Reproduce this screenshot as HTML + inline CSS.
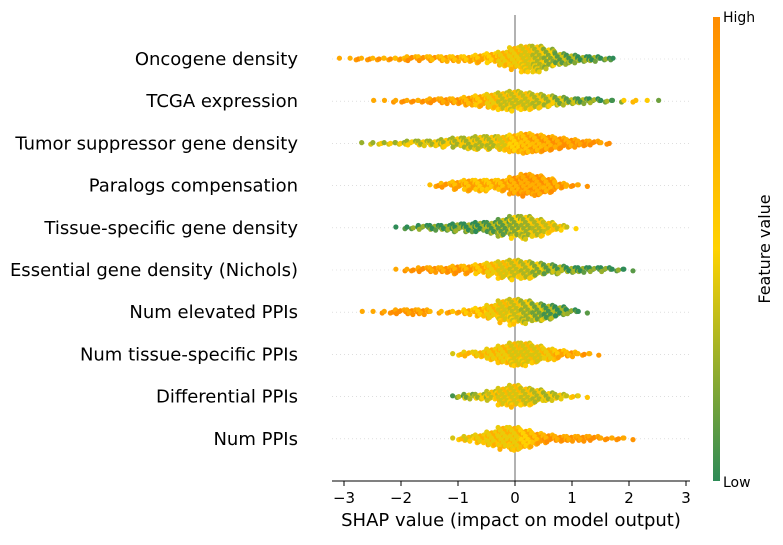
<!DOCTYPE html>
<html><head><meta charset="utf-8"><style>
body{margin:0;background:#fff;}
svg{font-family:"DejaVu Sans","Liberation Sans",sans-serif;}
</style></head><body>
<svg id="chart" width="783" height="540">
<defs><linearGradient id="cb" x1="0" y1="1" x2="0" y2="0">
<stop offset="0" stop-color="#2e8b57"/><stop offset="0.5" stop-color="#ffd200"/><stop offset="1" stop-color="#ff8c00"/>
</linearGradient></defs>
<g id="grid"></g>
<line x1="515" y1="15" x2="515" y2="481" stroke="#999" stroke-width="1.5"/>
<g id="dots"></g>
<g id="axes"></g>
<rect x="713" y="17" width="7" height="464" fill="url(#cb)"/>
<text x="723" y="22" font-size="14">High</text>
<text x="723" y="487" font-size="14">Low</text>
<text transform="translate(770,249) rotate(-90)" text-anchor="middle" font-size="16">Feature value</text>
<text x="511" y="526" text-anchor="middle" font-size="18">SHAP value (impact on model output)</text>
</svg>
<script>
const features=["Oncogene density","TCGA expression","Tumor suppressor gene density","Paralogs compensation","Tissue-specific gene density","Essential gene density (Nichols)","Num elevated PPIs","Num tissue-specific PPIs","Differential PPIs","Num PPIs"];
const binStart=-3.1, binWidth=0.2;
const countsOnco=[1,3,3,4,4,5,6,6,7,8,8,10,12,16,24,36,44,44,32,20,14,10,8,5,1,0,0,0,0,0];
const colorOnco=[.95,.9,.9,.85,.85,.8,.85,.8,.8,.75,.75,.7,.7,.65,.6,.6,.55,.45,.35,.25,.2,.15,.15,.1,.1,0,0,0,0,0];
const countsTcga=[0,0,0,1,2,3,4,5,6,8,10,14,18,24,30,32,30,24,18,14,10,8,6,4,2,2,1,1,1,0];
const colorTcga=[0,0,0,.95,.95,.95,.95,.9,.9,.9,.85,.8,.7,.6,.5,.5,.5,.45,.4,.3,.25,.2,.15,.15,.2,.7,.8,.7,.3,0];
const countsTsg=[0,0,2,3,4,5,6,8,10,12,16,20,22,22,24,30,34,30,24,18,14,10,6,3,0,0,0,0,0,0];
const colorTsg=[0,0,.4,.4,.4,.4,.4,.42,.42,.42,.42,.42,.45,.45,.55,.65,.75,.8,.85,.9,.9,.95,.95,.95,0,0,0,0,0,0];
const countsPara=[0,0,0,0,0,0,0,0,3,6,12,18,20,16,18,30,36,34,24,10,4,2,0,0,0,0,0,0,0,0];
const colorPara=[0,0,0,0,0,0,0,0,.8,.8,.75,.75,.7,.7,.75,.85,.9,.9,.85,.85,.9,.95,0,0,0,0,0,0,0,0];
const countsTissue=[0,0,0,0,0,2,4,6,8,10,12,14,16,20,28,36,38,30,18,8,2,0,0,0,0,0,0,0,0,0];
const colorTissue=[0,0,0,0,0,.1,.1,.1,.1,.12,.12,.15,.15,.2,.25,.35,.4,.45,.5,.5,.5,0,0,0,0,0,0,0,0,0];
const countsEss=[0,0,0,0,0,2,4,6,8,10,12,12,16,22,28,32,30,22,16,12,10,8,6,6,4,2,0,0,0,0];
const colorEss=[0,0,0,0,0,.95,.95,.95,.9,.9,.85,.8,.7,.6,.55,.5,.45,.35,.25,.2,.15,.12,.1,.1,.1,.1,0,0,0,0];
const countsElev=[0,0,1,2,3,6,8,8,2,3,4,8,14,22,36,42,38,30,24,16,6,2,0,0,0,0,0,0,0,0];
const colorElev=[0,0,.95,.95,.95,.95,.95,.9,.85,.8,.75,.7,.65,.6,.55,.5,.4,.3,.2,.15,.1,.1,0,0,0,0,0,0,0,0];
const countsTsPpi=[0,0,0,0,0,0,0,0,0,0,3,6,10,20,30,40,38,28,20,12,8,4,2,0,0,0,0,0,0,0];
const colorTsPpi=[0,0,0,0,0,0,0,0,0,0,.55,.6,.6,.6,.6,.55,.55,.55,.6,.7,.8,.85,.9,0,0,0,0,0,0,0];
const countsDiff=[0,0,0,0,0,0,0,0,0,0,4,8,10,16,30,36,30,22,14,8,4,2,0,0,0,0,0,0,0,0];
const colorDiff=[0,0,0,0,0,0,0,0,0,0,.2,.3,.4,.5,.55,.55,.5,.45,.4,.45,.5,.6,0,0,0,0,0,0,0,0];
const countsPpi=[0,0,0,0,0,0,0,0,0,0,3,8,14,24,36,40,30,18,12,10,8,8,6,4,4,2,0,0,0,0];
const colorPpi=[0,0,0,0,0,0,0,0,0,0,.55,.55,.6,.6,.6,.6,.65,.75,.85,.9,.9,.95,.95,.95,.95,.95,0,0,0,0];
const allCounts=[countsOnco,countsTcga,countsTsg,countsPara,countsTissue,countsEss,countsElev,countsTsPpi,countsDiff,countsPpi];
const allColors=[colorOnco,colorTcga,colorTsg,colorPara,colorTissue,colorEss,colorElev,colorTsPpi,colorDiff,colorPpi];
const xTicks=[-3,-2,-1,0,1,2,3];

const NS="http://www.w3.org/2000/svg";
const xScale=v=>515+v*57;
const yScale=i=>59+i*42.2;
function cmap(t){t=Math.max(0,Math.min(1,t));
 const a=[46,139,87],b=[255,210,0],c=[255,140,0];let p,q,u;
 if(t<.5){p=a;q=b;u=t/.5}else{p=b;q=c;u=(t-.5)/.5}
 return `rgb(${p.map((v,k)=>Math.round(v+(q[k]-v)*u)).join(',')})`;}
function mk(tag,attrs,parent){const e=document.createElementNS(NS,tag);for(const k in attrs)e.setAttribute(k,attrs[k]);parent.appendChild(e);return e;}
const grid=document.getElementById('grid'),dots=document.getElementById('dots'),axes=document.getElementById('axes');
features.forEach((f,i)=>{
 const y=yScale(i);
 const gl=mk('line',{x1:332,x2:690,y1:y,y2:y,stroke:'#ccc','stroke-dasharray':'1,3','stroke-width':0.6},grid);
 
 
 const t=mk('text',{x:298,y:y+6,'text-anchor':'end','font-size':18},axes);
 t.textContent=f;
 
 
 const cnt=allCounts[i],col=allColors[i];
 cnt.forEach((n,b)=>{
  if(!n)return;
  const x0=xScale(binStart+b*binWidth);
  const cols=Math.min(5,n),rows=Math.ceil(n/cols);
  for(let k=0;k<n;k++){
   const c=k%cols,r=Math.floor(k/cols);
   const cx=x0+(c+0.5+((r*7+c*3)%5)/5-0.4)*(binWidth*57/cols);
   const cy=y+(r-(rows-1)/2)*3+((c*5+r)%3-1)*0.8;
   const cv=col[b]+((k%3)-1)*0.15;
   const d=mk('circle',{cx:cx,cy:cy,r:2.6,fill:cmap(cv)},dots);
   
   
  }
 });
});
const ax=mk('line',{x1:332,x2:690,y1:481,y2:481,stroke:'#000','stroke-width':1},axes);


xTicks.forEach(v=>{
 const x=xScale(v);
 const tk=mk('line',{x1:x,x2:x,y1:481,y2:486,stroke:'#000'},axes);
 
 
 const tl=mk('text',{x:x,y:503,'text-anchor':'middle','font-size':15},axes);
 tl.textContent=v<0?'\u2212'+(-v):String(v);
 
 
});
</script>
</body></html>
